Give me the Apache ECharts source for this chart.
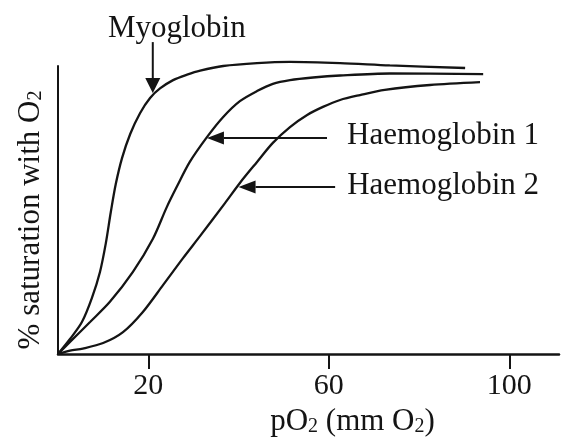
<!DOCTYPE html>
<html><head><meta charset="utf-8">
<script src="https://cdn.jsdelivr.net/npm/echarts@6/dist/echarts.min.js"></script>
<style>html,body{margin:0;padding:0;background:#fff}#c{width:565px;height:442px}</style>
</head><body><div id="c"></div>
<script>
// pO2 (mm) vs % saturation
const seriesNames = ['Myoglobin', 'Haemoglobin 1', 'Haemoglobin 2'];
const myoglobin = [[0,0],[2.66,5.2],[5.3,11.1],[7.5,19.4],[9.3,28.5],[10.6,38.5],[11.7,49.3],[12.8,59.0],[14.2,68.1],[16.0,76.4],[18.2,83.7],[20.4,88.9],[22.6,92.2],[25.5,95.1],[28.6,97.0],[31.5,98.4],[36.6,100.0],[44.1,101.0],[51.4,101.4],[62.5,101.0],[73.5,100.2],[90.2,99.3]];
const haemoglobin1 = [[0,0],[2.66,4.2],[7.1,11.1],[11.5,18.1],[16.6,28.5],[21.0,39.9],[24.1,51.0],[26.4,58.3],[29.2,66.7],[33.0,75.3],[36.6,82.3],[40.3,87.8],[44.1,91.3],[47.6,93.8],[51.4,95.1],[56.5,96.0],[62.5,96.7],[73.5,97.4],[94.2,97.2]];
const haemoglobin2 = [[0,0],[2.66,1.2],[5.5,1.9],[10.0,3.8],[14.4,7.6],[18.8,14.6],[23.3,24.0],[27.7,33.3],[31.5,41.0],[37.0,52.4],[40.3,59.4],[44.1,66.7],[47.6,73.3],[51.4,78.8],[55.2,83.0],[58.7,85.8],[62.5,88.2],[66.9,89.9],[72.4,91.7],[82.4,93.4],[93.5,94.4]];
const xTickValues = [20, 60, 100];
// annotation arrows (tail -> tip) in data units
const arrowTails = [[21.0,108.3],[59.6,75.0],[61.4,58.0]];
const arrowTips  = [[21.0,90.6],[33.0,75.0],[40.0,58.0]];

const FONT = '"Liberation Serif", "Times New Roman", serif';
const INK = '#141414';
const chart = echarts.init(document.getElementById('c'));
const subRich = { sub: { fontSize: 20, lineHeight: 12, verticalAlign: 'bottom', fontFamily: FONT, color: INK } };
const allData = [myoglobin, haemoglobin1, haemoglobin2];
chart.setOption({
  animation: false,
  backgroundColor: '#fff',
  grid: { left: 58, right: 6, top: 66, bottom: 88 },
  xAxis: {
    type: 'value', min: 0, max: 111,
    axisLine: { lineStyle: { color: INK, width: 2.5 } },
    axisTick: { show: true, customValues: xTickValues, length: 15, inside: false, lineStyle: { color: INK, width: 2 } },
    axisLabel: { customValues: xTickValues, fontSize: 30, fontFamily: FONT, color: INK, margin: 17 },
    splitLine: { show: false },
    name: 'pO{sub|2} (mm O{sub|2})', nameLocation: 'middle', nameGap: 49,
    nameTextStyle: { fontSize: 31, fontFamily: FONT, color: INK, padding: [0, 0, 0, 88], rich: subRich }
  },
  yAxis: {
    type: 'value', min: 0, max: 100,
    axisLine: { show: true, lineStyle: { color: INK, width: 2 } },
    axisTick: { show: false }, axisLabel: { show: false }, splitLine: { show: false },
    name: '% saturation with O{sub|2}', nameLocation: 'middle', nameRotate: 90, nameGap: 12,
    nameTextStyle: { fontSize: 31, fontFamily: FONT, color: INK, padding: [0, 20, 0, 0], rich: subRich }
  },
  series: allData.map((d, i) => ({
    name: seriesNames[i], type: 'line', data: d, smooth: 0.3, showSymbol: false, clip: false,
    lineStyle: { color: INK, width: 2.3 }, silent: true
  }))
});

// arrows + annotation texts
const g = [];
const heads = [[15, 15], [17, 13], [17, 13]];
const textOffsets = [[24, -13], [20, -2], [12, -1]];
arrowTails.forEach((t, i) => {
  const a = chart.convertToPixel({ gridIndex: 0 }, t);
  const b = chart.convertToPixel({ gridIndex: 0 }, arrowTips[i]);
  const dx = b[0] - a[0], dy = b[1] - a[1];
  const L = Math.hypot(dx, dy), ux = dx / L, uy = dy / L;
  const [hl, hw] = heads[i];
  const bx = b[0] - ux * hl, by = b[1] - uy * hl;
  g.push({ type: 'line', shape: { x1: a[0], y1: a[1], x2: bx, y2: by }, style: { stroke: INK, lineWidth: 2 }, silent: true });
  g.push({ type: 'polygon', shape: { points: [[b[0], b[1]], [bx - uy * hw / 2, by + ux * hw / 2], [bx + uy * hw / 2, by - ux * hw / 2]] }, style: { fill: INK }, silent: true });
  g.push({ type: 'text', style: { text: seriesNames[i], x: a[0] + textOffsets[i][0], y: a[1] + textOffsets[i][1], font: '31px ' + FONT, fill: INK, align: i === 0 ? 'center' : 'left', verticalAlign: 'middle' }, silent: true });
});
chart.setOption({ graphic: g });
</script></body></html>
